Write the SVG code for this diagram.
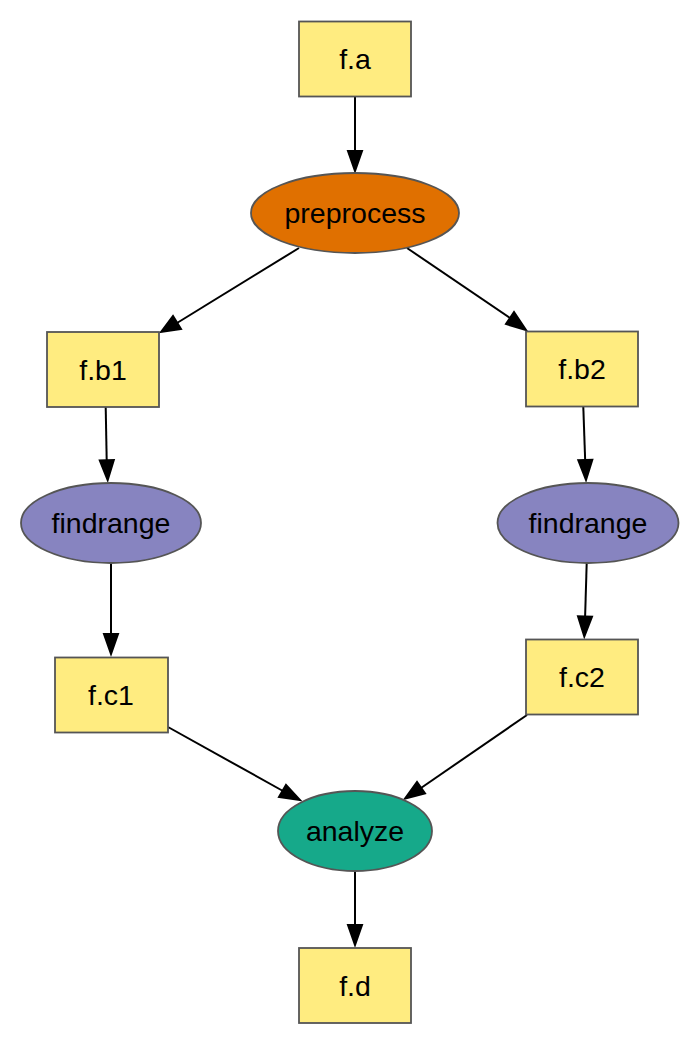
<svg xmlns="http://www.w3.org/2000/svg" width="696" height="1042" viewBox="0 0 696 1042">
<style>
.box{fill:#ffec80;stroke:#555555;stroke-width:1.8}
.ell{stroke:#555555;stroke-width:1.8}
.lbl{font-family:"Liberation Sans",Arial,sans-serif;font-size:28.5px;fill:#000;text-anchor:middle;dominant-baseline:central}
.edge{stroke:#000;stroke-width:2;fill:none}
.head{fill:#000;stroke:#000;stroke-width:2}
</style>
<rect width="696" height="1042" fill="#ffffff"/>
<g id="connectors">
<path class="edge" d="M355,97 L355,152"/>
<polygon class="head" points="355,171 348,151 362,151"/>
<path class="edge" d="M299,248 L177,323"/>
<polygon class="head" points="161,332 173,316 181,329"/>
<path class="edge" d="M407,248 L510,318"/>
<polygon class="head" points="526,330 506,324 514,312"/>
<path class="edge" d="M105.7,407 L106.7,461"/>
<polygon class="head" points="107.7,480 99.8,460.5 113.8,460"/>
<path class="edge" d="M111,563 L111,635"/>
<polygon class="head" points="111,654 104,634 118,634"/>
<path class="edge" d="M583.3,407 L585.2,461"/>
<polygon class="head" points="586,480 578.3,460.2 592.3,459.8"/>
<path class="edge" d="M586.7,563 L585.1,617"/>
<polygon class="head" points="584.3,636.5 578,616.3 592,616.7"/>
<path class="edge" d="M168,727 L283,791"/>
<polygon class="head" points="300,800 279,797 286,785"/>
<path class="edge" d="M527,715 L421,788"/>
<polygon class="head" points="405,798.5 417,782 425,793.5"/>
<path class="edge" d="M355,871 L355,926"/>
<polygon class="head" points="355,945 348,925 362,925"/>
</g>
<g id="f_a"><rect class="box" x="299" y="21.5" width="112" height="75"/><text class="lbl" x="355" y="59">f.a</text></g>
<g id="preprocess"><ellipse class="ell" fill="#e07000" cx="355" cy="213" rx="104" ry="40"/><text class="lbl" x="355" y="213">preprocess</text></g>
<g id="f_b1"><rect class="box" x="47" y="332" width="112" height="75"/><text class="lbl" x="103" y="369.5">f.b1</text></g>
<g id="f_b2"><rect class="box" x="526" y="331.5" width="112" height="75"/><text class="lbl" x="582" y="369">f.b2</text></g>
<g id="findrange1"><ellipse class="ell" fill="#8784c0" cx="111" cy="523" rx="90" ry="40"/><text class="lbl" x="111" y="523">findrange</text></g>
<g id="findrange2"><ellipse class="ell" fill="#8784c0" cx="588" cy="523" rx="90.5" ry="40"/><text class="lbl" x="588" y="523">findrange</text></g>
<g id="f_c1"><rect class="box" x="55" y="657.5" width="113" height="75"/><text class="lbl" x="111" y="695">f.c1</text></g>
<g id="f_c2"><rect class="box" x="526" y="639.5" width="112" height="75"/><text class="lbl" x="582" y="677">f.c2</text></g>
<g id="analyze"><ellipse class="ell" fill="#16a98a" cx="355" cy="831" rx="77" ry="40"/><text class="lbl" x="355" y="831">analyze</text></g>
<g id="f_d"><rect class="box" x="299" y="948" width="112" height="75"/><text class="lbl" x="355" y="985.5">f.d</text></g>
</svg>
